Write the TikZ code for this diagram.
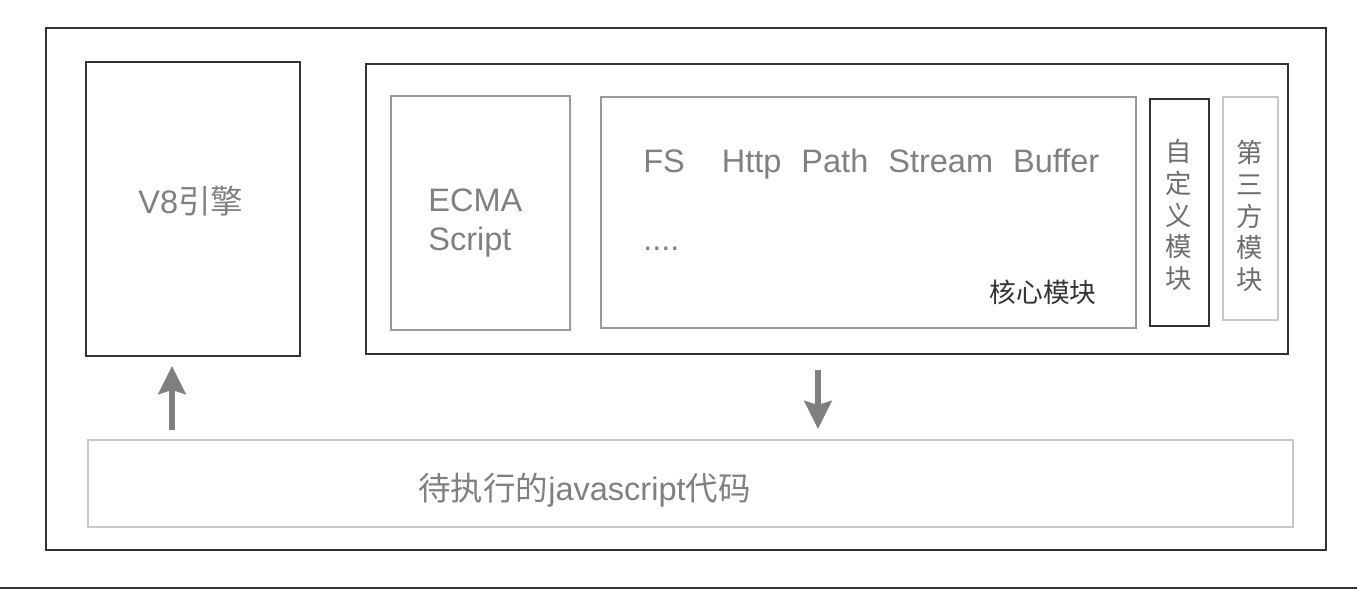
\documentclass[tikz,border=0pt]{standalone}
\usepackage{fontspec}
\setmainfont{Liberation Sans}
\newfontfamily\cjk{Noto Sans CJK SC}
\usetikzlibrary{arrows.meta, positioning, calc}
\definecolor{cdark}{HTML}{333333}
\definecolor{cmid}{HTML}{9A9A9A}
\definecolor{clight}{HTML}{C8C8C8}
\definecolor{ctext}{HTML}{808080}
\definecolor{carrow}{HTML}{7F7F7F}
\tikzset{
  every picture/.style={x=0.02cm, y=-0.02cm},
  frame/.style={draw=#1, line width=1.1pt, inner sep=0pt, outer sep=0pt},
  frame/.default=cdark,
  label/.style={text=ctext, inner sep=0pt, font=\fontsize{18.5}{22.7}\selectfont, align=left},
  vlabel/.style={text=ctext!85!black, inner sep=0pt, font=\cjk\fontsize{15}{18.1}\selectfont, align=center},
  bigarrow/.style={-{Stealth[length=0.56cm, width=0.54cm, inset=0.08cm]}, draw=carrow, line width=0.13cm},
}

\begin{document}
\begin{tikzpicture}
  \useasboundingbox (0,0) rectangle (1357,590);

  % frames
  \node[frame, minimum width=25.6cm, minimum height=10.44cm] (outer) at (686,289) {};
  \node[frame, minimum width=4.28cm, minimum height=5.88cm] (v8) at (193,209) {};
  \node[frame, minimum width=18.44cm, minimum height=5.8cm] (node) at (827,209) {};
  \node[frame=cmid, line width=0.8pt, minimum width=3.58cm, minimum height=4.68cm] (ecma) at (480.5,213) {};
  \node[frame=cmid, line width=0.8pt, minimum width=10.7cm, minimum height=4.62cm] (core) at (868.5,212.5) {};
  \node[frame, minimum width=1.18cm, minimum height=4.54cm] (custom) at (1179.5,212.5) {};
  \node[frame=clight, line width=0.8pt, minimum width=1.1cm, minimum height=4.46cm] (third) at (1250.5,208.5) {};
  \node[frame=clight, line width=0.8pt, minimum width=24.1cm, minimum height=1.74cm] (js) at (690.5,483.5) {};

  % texts
  \node[label, anchor=west] (v8txt) at (138,201) {V8{\cjk 引擎}};
  \node[label, anchor=north west] (ecmatxt) at (428,188) {ECMA\\Script};
  \node[label, anchor=west] (mods) at (643,164) {FS\hspace{0.74cm}Http\hspace{0.4cm}Path\hspace{0.4cm}Stream\hspace{0.4cm}Buffer};
  \node[label, anchor=west] (dots) at (643,249) {....};
  \node[text=cdark, inner sep=0pt, font=\cjk\fontsize{15.2}{18}\selectfont, anchor=east] (coretxt) at (1097,292) {核心模块};
  \node[vlabel] (customtxt) at (1179,215) {自\\定\\义\\模\\块};
  \node[vlabel] (thirdtxt) at (1250,216) {第\\三\\方\\模\\块};
  \node[label, anchor=west] (jstxt) at (418,490) {{\cjk 待执行的}javascript{\cjk 代码}};

  % arrows
  \coordinate (upx) at (172,0);
  \coordinate (downx) at (818,0);
  \draw[bigarrow, shorten <=0.2cm, shorten >=0.2cm] (js.north -| upx) -- (v8.south -| upx);
  \draw[bigarrow, shorten <=0.32cm, shorten >=0.22cm] (node.south -| downx) -- (js.north -| downx);

  % divider
  \draw[cdark, line width=1.1pt] (0,588) -- (1357,588);
\end{tikzpicture}
\end{document}
